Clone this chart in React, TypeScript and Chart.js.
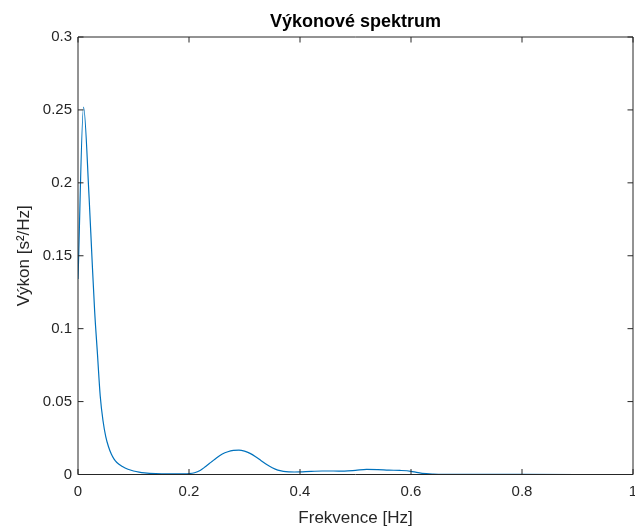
import React, { useEffect, useRef } from "react";
import { Chart, registerables } from "chart.js";

Chart.register(...registerables);

// Power spectral density estimate
const frequencyHz: number[] = [
  0, 0.01, 0.02, 0.025, 0.03, 0.035, 0.04, 0.045, 0.05, 0.055, 0.06, 0.065,
  0.07, 0.08, 0.09, 0.1, 0.11, 0.12, 0.14, 0.16, 0.18, 0.2, 0.21, 0.22, 0.23,
  0.24, 0.25, 0.26, 0.27, 0.28, 0.29, 0.3, 0.31, 0.32, 0.33, 0.34, 0.35, 0.36,
  0.37, 0.38, 0.39, 0.4, 0.42, 0.44, 0.46, 0.48, 0.5, 0.52, 0.54, 0.56, 0.58,
  0.6, 0.61, 0.62, 0.64, 0.66, 0.7, 0.8, 0.9, 1.0,
];
const powerS2PerHz: number[] = [
  0.134, 0.252, 0.19, 0.15, 0.112, 0.083, 0.054, 0.037, 0.026, 0.019, 0.014,
  0.0105, 0.0082, 0.0055, 0.0036, 0.0024, 0.0016, 0.0011, 0.0006, 0.0004,
  0.0004, 0.0006, 0.0012, 0.0028, 0.0055, 0.0085, 0.0115, 0.014, 0.0156,
  0.0165, 0.0167, 0.016, 0.0145, 0.0122, 0.0095, 0.0068, 0.0046, 0.003,
  0.0022, 0.0018, 0.0017, 0.0018, 0.0022, 0.0024, 0.0024, 0.0023, 0.0028,
  0.0035, 0.0034, 0.003, 0.0028, 0.0022, 0.0014, 0.0008, 0.0003, 0.0001,
  0.00005, 0.00002, 0.00001, 0.00001,
];

const xTicks: number[] = [0, 0.2, 0.4, 0.6, 0.8, 1];
const yTicks: number[] = [0, 0.05, 0.1, 0.15, 0.2, 0.25, 0.3];

const titleText = "Výkonové spektrum";
const xLabel = "Frekvence [Hz]";
const yLabel = "Výkon [s²/Hz]";

const FONT = "'Liberation Sans', Arial, Helvetica, sans-serif";
const AXIS_COLOR = "#262626";
const LINE_COLOR = "#0072BD";

// Draws the axes box with inward-pointing tick marks on all four sides
const boxPlugin = {
  id: "matlabBox",
  afterDatasetsDraw(chart: any) {
    const { ctx, chartArea } = chart;
    const { left, right, top, bottom } = chartArea;
    const xs = chart.scales.x;
    const ys = chart.scales.y;
    const len = 5.5;
    ctx.save();
    ctx.strokeStyle = AXIS_COLOR;
    ctx.lineWidth = 1;
    ctx.beginPath();
    ctx.rect(left, top, right - left, bottom - top);
    for (const v of xTicks) {
      const px = xs.getPixelForValue(v);
      ctx.moveTo(px, bottom);
      ctx.lineTo(px, bottom - len);
      ctx.moveTo(px, top);
      ctx.lineTo(px, top + len);
    }
    for (const v of yTicks) {
      const py = ys.getPixelForValue(v);
      ctx.moveTo(left, py);
      ctx.lineTo(left + len, py);
      ctx.moveTo(right, py);
      ctx.lineTo(right - len, py);
    }
    ctx.stroke();
    ctx.restore();
  },
};

export default function App() {
  const canvasRef = useRef<HTMLCanvasElement | null>(null);

  useEffect(() => {
    const canvas = canvasRef.current;
    if (!canvas) return;
    const points = frequencyHz.map((f, i) => ({ x: f, y: powerS2PerHz[i] }));
    const chart = new Chart(canvas, {
      type: "line",
      data: {
        datasets: [
          {
            data: points,
            borderColor: LINE_COLOR,
            borderWidth: 1.2,
            pointRadius: 0,
            tension: 0.35,
            cubicInterpolationMode: "monotone",
            fill: false,
          },
        ],
      },
      options: {
        animation: false,
        responsive: false,
        maintainAspectRatio: false,
        layout: { padding: { left: 0, right: 2, top: 0, bottom: 0 } },
        plugins: {
          legend: { display: false },
          tooltip: { enabled: false },
          title: {
            display: true,
            text: titleText,
            fullSize: false,
            color: "#000",
            font: { family: FONT, size: 18, weight: "bold", lineHeight: 1.2 },
            padding: { top: 11, bottom: 4.4 },
          },
        },
        scales: {
          x: {
            type: "linear",
            min: 0,
            max: 1,
            afterBuildTicks(scale: any) {
              scale.ticks = xTicks.map((v) => ({ value: v }));
            },
            afterFit(scale: any) {
              scale.height = 54.5;
              scale.paddingLeft = 0;
              scale.paddingRight = 0;
            },
            grid: { display: false, drawTicks: false },
            border: { display: false },
            ticks: {
              color: "#262626",
              font: { family: FONT, size: 15 },
              padding: 8,
              maxRotation: 0,
              callback: (v: any) => String(Number(v)),
            },
            title: {
              display: true,
              text: xLabel,
              color: "#262626",
              font: { family: FONT, size: 17 },
              padding: { top: 2, bottom: 0 },
            },
          },
          y: {
            type: "linear",
            min: 0,
            max: 0.3,
            afterBuildTicks(scale: any) {
              scale.ticks = yTicks.map((v) => ({ value: v }));
            },
            afterFit(scale: any) {
              scale.width = 78;
              scale.paddingTop = 0;
              scale.paddingBottom = 0;
            },
            grid: { display: false, drawTicks: false },
            border: { display: false },
            ticks: {
              color: "#262626",
              font: { family: FONT, size: 15 },
              padding: 6,
              callback: (v: any) => String(Number(v)),
            },
            title: {
              display: true,
              text: yLabel,
              color: "#262626",
              font: { family: FONT, size: 17 },
              padding: { top: 14, bottom: 0 },
            },
          },
        },
      },
      plugins: [boxPlugin],
    } as any);
    return () => chart.destroy();
  }, []);

  return (
    <div
      style={{
        position: "fixed",
        left: 0,
        top: 0,
        width: 635,
        height: 529,
        background: "#fff",
      }}
    >
      <canvas ref={canvasRef} width={635} height={529} style={{ display: "block" }} />
    </div>
  );
}
